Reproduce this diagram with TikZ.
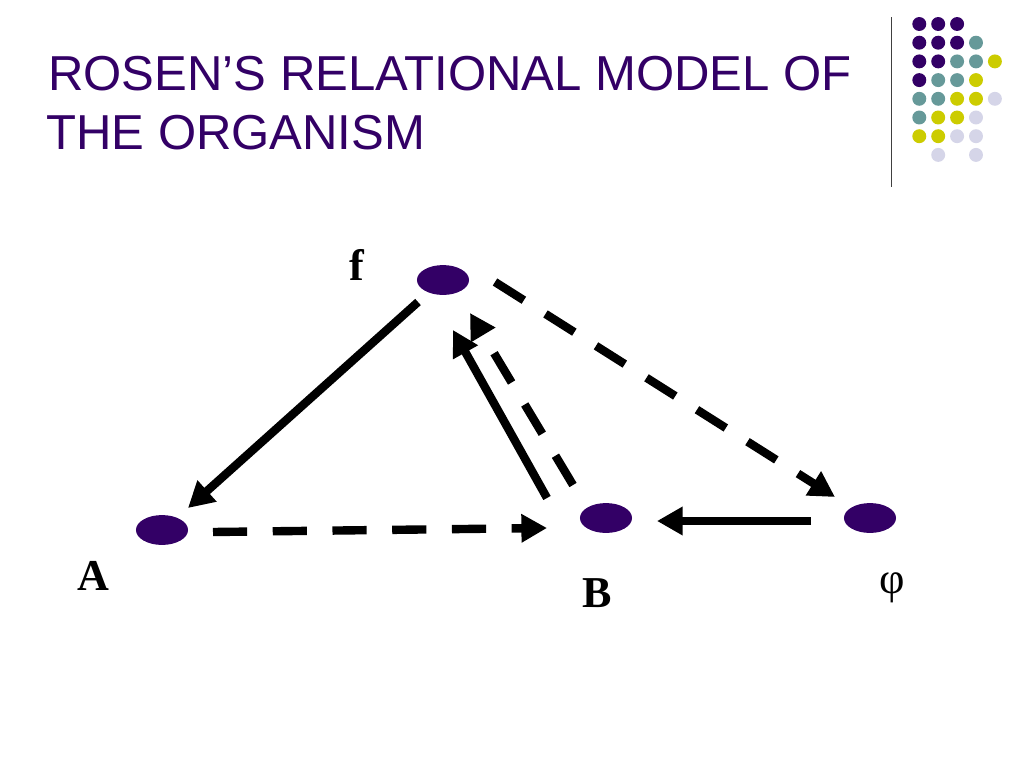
\documentclass[tikz,border=0pt]{standalone}
\usepackage{fontspec}
\setmainfont{Liberation Serif}
\newfontfamily\titlefont{Liberation Sans}
\usetikzlibrary{arrows.meta,shapes.geometric}
\definecolor{dpurple}{HTML}{330066}
\definecolor{dteal}{HTML}{669999}
\definecolor{dyellow}{HTML}{CCCC00}
\definecolor{dlav}{HTML}{D5D5E8}
\tikzset{
  dot/.style={ellipse, fill=dpurple, minimum width=36.6pt, minimum height=21pt, inner sep=0pt},
  lbl/.style={font=\fontsize{31}{36}\selectfont\bfseries, inner sep=0pt, anchor=base},
  solidarrow/.style={line width=5.9pt, -{Triangle[length=18pt,width=19pt]}},
  dasharrow/.style={line width=5.9pt, dash pattern=on 24pt off 18pt, -{Triangle[length=18pt,width=19pt]}},
  gdot/.style={circle, inner sep=0pt, minimum size=9.8pt},
  ttl/.style={anchor=base west, inner sep=0pt, text=dpurple, font=\titlefont\fontsize{34.5}{40}\selectfont}
}
\begin{document}
\begin{tikzpicture}[x=0.703pt, y=-0.703pt]
\useasboundingbox (0,0) rectangle (1024,768);
\fill[white] (0,0) rectangle (1024,768);
% title
\node[ttl] (t1) at (48,90) {ROSEN’S RELATIONAL MODEL OF};
\node[ttl] (t2) at (46,149) {THE ORGANISM};
% decoration
\draw[line width=1pt, black!75] (891.5,17) -- (891.5,187);
\foreach \c [count=\r] in {
  {dpurple,dpurple,dpurple,none,none},
  {dpurple,dpurple,dpurple,dteal,none},
  {dpurple,dpurple,dteal,dteal,dyellow},
  {dpurple,dteal,dteal,dyellow,none},
  {dteal,dteal,dyellow,dyellow,dlav},
  {dteal,dyellow,dyellow,dlav,none},
  {dyellow,dyellow,dlav,dlav,none},
  {none,dlav,none,dlav,none}}{
  \foreach \col [count=\k] in \c {
    \node[gdot, fill=\col] (g\r\k) at ({919.3+(\k-1)*18.9}, {24+(\r-1)*18.7}) {};
  }
}
% nodes
\node[dot] (f) at (443,280) {};
\node[dot] (A) at (162,530) {};
\node[dot] (B) at (606,518) {};
\node[dot] (phi) at (870,518) {};
% labels
\node[lbl] (lf) at (357,280) {f};
\node[lbl] (lA) at (93,590) {A};
\node[lbl] (lB) at (597,607) {B};
\node[lbl, font=\fontsize{31}{36}\selectfont] (lphi) at (892,593) {φ};
% connectors
\draw[solidarrow] ([shift={(-25,22)}]f.center) -- ([shift={(26,-22)}]A.center);
\draw[dasharrow] ([shift={(51,2)}]A.center) -- ([shift={(-59,10)}]B.center);
\draw[solidarrow] ([shift={(-59,-20)}]B.center) -- ([shift={(10,50)}]f.center);
\draw[dasharrow] ([shift={(-33,-33)}]B.center) -- ([shift={(27,33)}]f.center);
\draw[dasharrow] ([shift={(52,2)}]f.center) -- ([shift={(-35,-21)}]phi.center);
\draw[solidarrow] ([shift={(-59,3)}]phi.center) -- ([shift={(51,3)}]B.center);
\end{tikzpicture}
\end{document}
